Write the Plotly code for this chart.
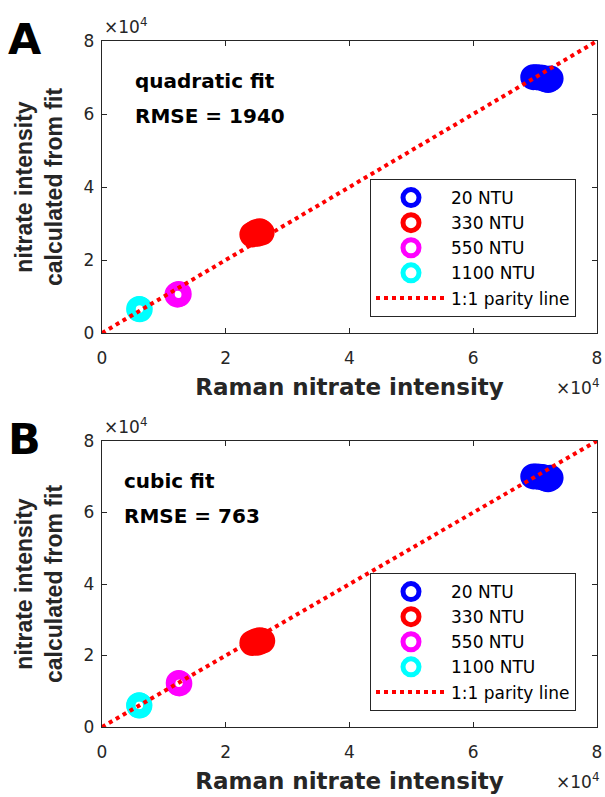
import plotly.graph_objects as go

# ---------------- data ----------------
groups = ["20 NTU", "330 NTU", "550 NTU", "1100 NTU"]
colors = ["#0000FF", "#FF0000", "#FF00FF", "#00FFFF"]

# Panel A (quadratic fit)
a_20_x = [69700, 70200, 70700, 71200, 71700, 72100, 72500]
a_20_y = [70100, 70100, 70000, 69900, 69500, 69300, 69700]
a_330_x = [24300, 24900, 25500, 25800, 25100]
a_330_y = [27000, 27600, 27900, 27500, 27200]
a_550_x = [12200, 12400]
a_550_y = [10500, 10700]
a_1100_x = [6000, 6100]
a_1100_y = [6600, 6500]

# Panel B (cubic fit)
b_20_x = [69700, 70200, 70700, 71200, 71700, 72100, 72500]
b_20_y = [70100, 70100, 70000, 69900, 69500, 69300, 69700]
b_330_x = [24300, 24900, 25500, 25900, 25200]
b_330_y = [23500, 24000, 24300, 24100, 23600]
b_550_x = [12400, 12500]
b_550_y = [12300, 12200]
b_1100_x = [6000, 6050]
b_1100_y = [6100, 6000]

parity = [0, 80000]
ticks = [0, 20000, 40000, 60000, 80000]
tick_text = ["0", "2", "4", "6", "8"]

panels = [
    ("A", [(a_20_x, a_20_y), (a_330_x, a_330_y), (a_550_x, a_550_y), (a_1100_x, a_1100_y)],
     "quadratic fit", "RMSE = 1940"),
    ("B", [(b_20_x, b_20_y), (b_330_x, b_330_y), (b_550_x, b_550_y), (b_1100_x, b_1100_y)],
     "cubic fit", "RMSE = 763"),
]

W, H = 605, 797
WIDE = "DejaVu Sans, Verdana, sans-serif"
ARIAL = "Liberation Sans, Arial, sans-serif"
AXC = "#262626"

fig = go.Figure()

x_left, x_right = 102, 597
y_areas = [(41, 333), (441, 727)]

for i, (lab, data, fit, rmse) in enumerate(panels):
    n = "" if i == 0 else str(i + 1)
    legname = "legend" if i == 0 else "legend2"
    for (xs, ys), g, c in zip(data, groups, colors):
        fig.add_trace(go.Scatter(
            x=xs, y=ys, mode="markers", name=g,
            marker=dict(symbol="circle-open", size=17, color=c,
                        line=dict(width=9, color=c)),
            xaxis="x" + n, yaxis="y" + n, legend=legname, showlegend=True))
    fig.add_trace(go.Scatter(
        x=parity, y=parity, mode="lines", name="1:1 parity line",
        line=dict(color="#FF0000", width=4, dash="4px,4px"),
        xaxis="x" + n, yaxis="y" + n, legend=legname))

    top, bot = y_areas[i]
    xdom = [x_left / W, x_right / W]
    ydom = [1 - bot / H, 1 - top / H]
    axcommon = dict(range=[0, 80000], tickvals=ticks, ticktext=tick_text,
                    ticks="inside", ticklen=5, tickwidth=1, tickcolor=AXC,
                    showline=True, linecolor=AXC, linewidth=1.3, mirror="ticks",
                    showgrid=False, zeroline=False, automargin=False,
                    tickfont=dict(family=WIDE, size=17, color="#262626"))
    fig.layout["xaxis" + n] = dict(domain=xdom, anchor="y" + n, ticklabelstandoff=9,
                                   title=dict(text="<b>Raman nitrate intensity</b>",
                                              font=dict(family=WIDE, size=23, color="#262626"),
                                              standoff=12),
                                   **axcommon)
    fig.layout["yaxis" + n] = dict(domain=ydom, anchor="x" + n, ticklabelstandoff=3,
                                   title=dict(text="<b>nitrate intensity<br>calculated from fit</b>",
                                              font=dict(family=ARIAL, size=23, color="#262626"),
                                              standoff=14),
                                   **axcommon)

    # panel letter
    fig.add_annotation(text="<b>%s</b>" % lab, xref="paper", yref="paper",
                       x=6 / W, y=1 - (top - 2) / H, xanchor="left", yanchor="middle",
                       showarrow=False, font=dict(family=WIDE, size=43, color="black"))
    # exponent labels
    fig.add_annotation(text="×10<sup>4</sup>", xref="paper", yref="paper",
                       x=102 / W, y=1 - (top - 2) / H, xanchor="left", yanchor="bottom",
                       showarrow=False, font=dict(family=WIDE, size=17, color="#262626"))
    fig.add_annotation(text="×10<sup>4</sup>", xref="paper", yref="paper",
                       x=601 / W, y=1 - (bot + 54) / H, xanchor="right", yanchor="middle",
                       showarrow=False, font=dict(family=WIDE, size=17, color="#262626"))
    # fit text
    fx = (133 if i == 0 else 122) / W
    fig.add_annotation(text="<b>%s</b>" % fit, xref="paper", yref="paper",
                       x=fx, y=1 - (top + 40) / H,
                       xanchor="left", yanchor="middle", showarrow=False,
                       font=dict(family=WIDE, size=20, color="black"))
    fig.add_annotation(text="<b>%s</b>" % rmse, xref="paper", yref="paper",
                       x=fx, y=1 - (top + 75) / H,
                       xanchor="left", yanchor="middle", showarrow=False,
                       font=dict(family=WIDE, size=20, color="black"))

leg_common = dict(bgcolor="white", bordercolor=AXC, borderwidth=1,
                  font=dict(family=WIDE, size=17, color="black"),
                  xanchor="left", yanchor="top", itemsizing="trace",
                  itemwidth=70, tracegroupgap=0)
fig.update_layout(
    width=W, height=H, margin=dict(l=0, r=0, t=0, b=0),
    plot_bgcolor="white", paper_bgcolor="white",
    legend=dict(x=370 / W, y=1 - 179 / H, **leg_common),
    legend2=dict(x=370 / W, y=1 - 573 / H, **leg_common),
)

fig.write_html("out.html")
